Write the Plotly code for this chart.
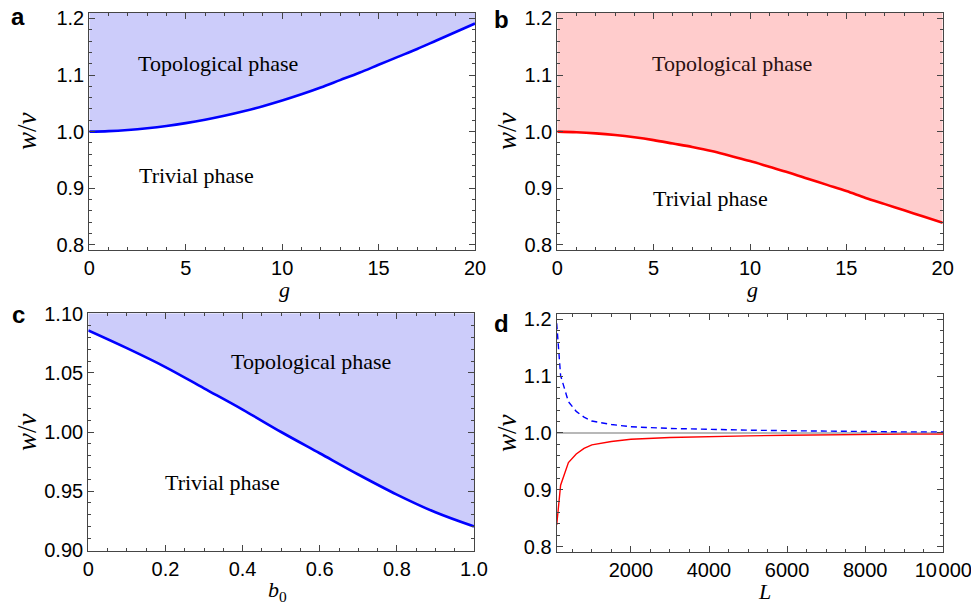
import plotly.graph_objects as go

# ---------------- data ----------------
g_vals = [0, 1, 2, 3, 4, 5, 6, 7, 8, 9, 10, 11, 12, 13, 14, 15, 16, 17, 18, 19, 20]
wv_a = [1.000, 1.001, 1.003, 1.006, 1.010, 1.015, 1.021, 1.028, 1.036, 1.045, 1.055,
        1.066, 1.078, 1.091, 1.104, 1.118, 1.132, 1.146, 1.161, 1.176, 1.191]
wv_b = [1.000, 0.999, 0.997, 0.994, 0.990, 0.985, 0.979, 0.973, 0.966, 0.957, 0.948,
        0.938, 0.928, 0.917, 0.906, 0.895, 0.883, 0.872, 0.861, 0.850, 0.839]
b0_vals = [0.0, 0.1, 0.2, 0.3, 0.4, 0.5, 0.6, 0.7, 0.8, 0.9, 1.0]
wv_c = [1.086, 1.071, 1.055, 1.037, 1.019, 1.000, 0.982, 0.964, 0.947, 0.932, 0.920]
L_vals = [100, 200, 400, 600, 800, 1000, 1500, 2000, 3000, 4000, 5000, 6000, 7000, 8000, 9000, 10000]
wv_d_red = [0.838, 0.908, 0.948, 0.963, 0.973, 0.979, 0.985, 0.989, 0.992, 0.994,
            0.995, 0.996, 0.997, 0.9975, 0.998, 0.998]
wv_d_blue = [1.193, 1.101, 1.055, 1.038, 1.028, 1.021, 1.015, 1.011, 1.008, 1.006,
             1.005, 1.004, 1.003, 1.0025, 1.002, 1.002]
ref_line = [1.0, 1.0]
ref_L = [100, 10000]

yticks_abd = [0.8, 0.9, 1.0, 1.1, 1.2]
yticks_c = [0.90, 0.95, 1.00, 1.05, 1.10]
xticks_ab = [0, 5, 10, 15, 20]
xticks_c = [0, 0.2, 0.4, 0.6, 0.8, 1.0]
xticklabels_c = ["0", "0.2", "0.4", "0.6", "0.8", "1.0"]
xticks_d = [2000, 4000, 6000, 8000, 10000]
xticklabels_d = ["2000", "4000", "6000", "8000", "10\u200a000"]

# ---------------- style ----------------
BLUE_FILL = "#ccccfa"
RED_FILL = "#ffcccc"
FRAME = "#454545"
YR_ABD = [0.791, 1.2095]
YR_C = [0.8995, 1.1005]

fig = go.Figure()

def add_fill(xs, ys, ytop, xa, ya, color, fill):
    fig.add_trace(go.Scatter(x=xs, y=[ytop] * len(xs), mode="lines", line=dict(width=0),
                             xaxis=xa, yaxis=ya, showlegend=False, hoverinfo="skip"))
    fig.add_trace(go.Scatter(x=xs, y=ys, mode="lines", line=dict(width=0),
                             fill="tonexty", fillcolor=fill,
                             xaxis=xa, yaxis=ya, showlegend=False, hoverinfo="skip"))
    fig.add_trace(go.Scatter(x=xs, y=ys, mode="lines", line=dict(color=color, width=2.6, shape="spline"),
                             xaxis=xa, yaxis=ya, showlegend=False))

add_fill(g_vals, wv_a, YR_ABD[1], "x", "y", "#0000ff", BLUE_FILL)
add_fill(g_vals, wv_b, YR_ABD[1], "x2", "y2", "#ff0000", RED_FILL)
add_fill(b0_vals, wv_c, YR_C[1], "x3", "y3", "#0000ff", BLUE_FILL)

fig.add_trace(go.Scatter(x=ref_L, y=ref_line, mode="lines", line=dict(color="#a0a0a0", width=1.5),
                         xaxis="x4", yaxis="y4", showlegend=False))
fig.add_trace(go.Scatter(x=L_vals, y=wv_d_blue, mode="lines",
                         line=dict(color="#0000ff", width=1.4, dash="6px,4px"),
                         xaxis="x4", yaxis="y4", showlegend=False))
fig.add_trace(go.Scatter(x=L_vals, y=wv_d_red, mode="lines",
                         line=dict(color="#ff0000", width=1.4),
                         xaxis="x4", yaxis="y4", showlegend=False))

tickfont = dict(family="Liberation Sans, Arial, sans-serif", size=20, color="black")

def axis_common():
    return dict(showline=True, linecolor=FRAME, linewidth=1.2, mirror="allticks",
                ticks="inside", ticklen=6, tickcolor=FRAME, tickwidth=1,
                showgrid=False, zeroline=False, tickfont=tickfont, automargin=False,
                ticklabeloverflow="allow")

W, H = 971, 606
def px(x):
    return x / W
def py(y):
    return 1 - y / H

dom = {
    "a": ([px(89.3), px(475)], [py(250), py(13)]),
    "b": ([px(557.3), px(942.7)], [py(250), py(13)]),
    "c": ([px(88.3), px(474)], [py(550.7), py(313.3)]),
    "d": ([px(556.7), px(943.3)], [py(551.7), py(314)]),
}

minor_small = dict(ticks="inside", ticklen=3, tickcolor=FRAME, tickwidth=1, showgrid=False)

fig.update_layout(
    width=W, height=H,
    margin=dict(l=0, r=0, t=0, b=0, autoexpand=False),
    plot_bgcolor="white", paper_bgcolor="white",
    xaxis=dict(**axis_common(), domain=dom["a"][0], anchor="y", range=[0, 20], tickvals=xticks_ab,
               minor=dict(dtick=1, **minor_small)),
    yaxis=dict(**axis_common(), domain=dom["a"][1], anchor="x", range=YR_ABD, tickvals=yticks_abd,
               tickformat=".1f", minor=dict(dtick=0.02, tick0=0.8, **minor_small)),
    xaxis2=dict(**axis_common(), domain=dom["b"][0], anchor="y2", range=[0, 20], tickvals=xticks_ab,
                minor=dict(dtick=1, **minor_small)),
    yaxis2=dict(**axis_common(), domain=dom["b"][1], anchor="x2", range=YR_ABD, tickvals=yticks_abd,
                tickformat=".1f", minor=dict(dtick=0.02, tick0=0.8, **minor_small)),
    xaxis3=dict(**axis_common(), domain=dom["c"][0], anchor="y3", range=[0, 1], tickvals=xticks_c,
                ticktext=xticklabels_c, minor=dict(dtick=0.05, tick0=0, **minor_small)),
    yaxis3=dict(**axis_common(), domain=dom["c"][1], anchor="x3", range=YR_C, tickvals=yticks_c,
                tickformat=".2f", minor=dict(dtick=0.01, tick0=0.9, **minor_small)),
    xaxis4=dict(**axis_common(), domain=dom["d"][0], anchor="y4", range=[100, 10000], tickvals=xticks_d,
                ticktext=xticklabels_d, minor=dict(dtick=500, tick0=0, **minor_small)),
    yaxis4=dict(**axis_common(), domain=dom["d"][1], anchor="x4", range=YR_ABD, tickvals=yticks_abd,
                tickformat=".1f", minor=dict(dtick=0.02, tick0=0.8, **minor_small)),
)

serif = "Liberation Serif, Times New Roman, serif"
ann = []
def text(x, y, s, size=22, xanchor="left", angle=0, family=serif, color="black"):
    ann.append(dict(x=px(x), y=py(y), xref="paper", yref="paper", text=s, showarrow=False,
                    xanchor=xanchor, yanchor="middle", textangle=angle,
                    font=dict(family=family, size=size, color=color)))

# phase labels
text(136, 64, "Topological phase")
text(137, 176, "Trivial phase")
text(650, 64, "Topological phase", color="#2a1010")
text(651, 198, "Trivial phase")
text(229, 361, "Topological phase")
text(163, 482, "Trivial phase")

# axis titles
for (x, y) in [(27, 131), (507, 131), (27, 432), (507, 433)]:
    text(x, y, "<i>w</i>/<i>v</i>", size=27, xanchor="center", angle=-90)
text(284, 289, "<i>g</i>", size=22, xanchor="center")
text(752, 289, "<i>g</i>", size=22, xanchor="center")
text(277, 591, "<i>b</i><sub>0</sub>", size=22, xanchor="center")
text(764, 591, "<i>L</i>", size=22, xanchor="center")

# panel letters
bold = "Liberation Sans, Arial, sans-serif"
text(9, 17, "<b>a</b>", size=24, family=bold)
text(492, 20, "<b>b</b>", size=24, family=bold)
text(10, 314, "<b>c</b>", size=24, family=bold)
text(492, 323, "<b>d</b>", size=24, family=bold)

fig.update_layout(annotations=ann)
fig.write_html("out.html", config={"displayModeBar": False},
               post_script="document.body.style.margin='0';document.body.style.overflow='hidden';")
